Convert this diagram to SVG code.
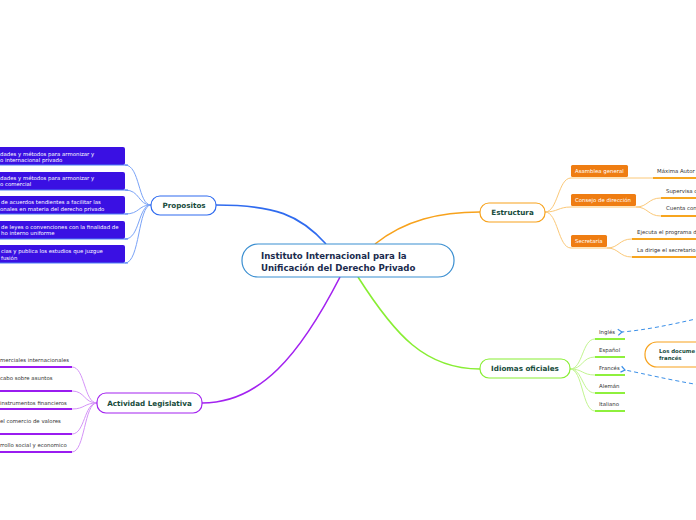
<svg xmlns="http://www.w3.org/2000/svg" width="696" height="520" viewBox="0 0 696 520">
<defs>
<style>
.main{fill:#fff;stroke:#3b8fd1;stroke-width:1.2}
.ctext{font-family:"DejaVu Sans",sans-serif;font-weight:bold;font-size:8.6px;fill:#1b2b4d}
.ntext{font-family:"DejaVu Sans",sans-serif;font-weight:bold;font-size:7.2px;fill:#174c3c;text-anchor:middle}
.ltext{font-family:"DejaVu Sans",sans-serif;font-size:5.4px;fill:#333}
.wtext{font-family:"DejaVu Sans",sans-serif;font-size:5.4px;fill:#fff}
.btext{font-family:"DejaVu Sans",sans-serif;font-weight:bold;font-size:5.4px;fill:#174c3c}
</style>
<marker id="arr" markerWidth="8" markerHeight="8" refX="1" refY="4" orient="auto" markerUnits="userSpaceOnUse">
<path d="M5,1 L1,4 L5,7" fill="none" stroke="#3a8fe8" stroke-width="1.2"/>
</marker>
</defs>
<rect width="696" height="520" fill="#fff"/>

<g id="connectors" fill="none">
<path d="M216,205 C275,205 300,215 326,244" stroke="#2f6bef" stroke-width="1.6"/>
<path d="M375,244 C405,220 440,212 480,212" stroke="#f7a21c" stroke-width="1.6"/>
<path d="M358,277 C395,335 425,369 480,369" stroke="#88ee33" stroke-width="1.6"/>
<path d="M340,277 C300,355 260,403 202,403" stroke="#a322f0" stroke-width="1.6"/>

<g stroke="#7aa3f7" stroke-width="1">
<path d="M151,205 C138,205 140,165 125,165"/>
<path d="M151,205 C138,205 140,190 125,190"/>
<path d="M151,205 C138,205 140,214 125,214"/>
<path d="M151,205 C138,205 140,239 125,239"/>
<path d="M151,205 C138,205 140,263 125,263"/>
</g>
<g stroke="#fbc878" stroke-width="1">
<path d="M545,212 C558,212 558,178 571,178"/>
<path d="M545,212 C558,212 558,207 571,207"/>
<path d="M545,212 C558,212 558,248 571,248"/>
<path d="M628,178 L653,178"/>
<path d="M636,207 C648,207 648,198 661,198"/>
<path d="M636,207 C648,207 648,216 661,216"/>
<path d="M607,248 C619,248 619,239 632,239"/>
<path d="M607,248 C619,248 619,257 632,257"/>
</g>
<g stroke="#c2f590" stroke-width="1">
<path d="M570,369 C583,369 582,339 595,339"/>
<path d="M570,369 C583,369 582,357 595,357"/>
<path d="M570,369 C583,369 582,375 595,375"/>
<path d="M570,369 C583,369 582,393 595,393"/>
<path d="M570,369 C583,369 582,411 595,411"/>
</g>
<g stroke="#d594f8" stroke-width="1">
<path d="M97,403 C84,403 85,367 72,367"/>
<path d="M97,403 C84,403 85,391 72,391"/>
<path d="M97,403 C84,403 85,409 72,409"/>
<path d="M97,403 C84,403 85,434 72,434"/>
<path d="M97,403 C84,403 85,452 72,452"/>
</g>
<g stroke="#3a8fe8" stroke-width="1" stroke-dasharray="4,3">
<path d="M700,318 C670,325 645,330 622,332" marker-end="url(#arr)"/>
<path d="M700,385 C670,380 645,374 625,370" marker-end="url(#arr)"/>
</g>
</g>

<g id="central">
<rect class="main" x="242" y="244" width="212" height="33" rx="16"/>
<text class="ctext" x="261" y="259">Instituto Internacional para la</text>
<text class="ctext" x="261" y="271">Unificación del Derecho Privado</text>
</g>

<g id="propositos">
<rect x="151" y="196" width="65" height="19" rx="9" fill="#fff" stroke="#2f6bef" stroke-width="1.2"/>
<text class="ntext" x="184" y="208">Propositos</text>
</g>
<g id="prop1">
<rect x="-5" y="147" width="130" height="18" rx="2" fill="#3a10e3"/>
<line x1="-5" y1="165" x2="128" y2="165" stroke="#4d7cf5" stroke-width="1"/>
<text class="wtext" x="0" y="156">dades y métodos para armonizar y</text>
<text class="wtext" x="0" y="162">o internacional privado</text>
</g>
<g id="prop2">
<rect x="-5" y="172" width="130" height="18" rx="2" fill="#3a10e3"/>
<line x1="-5" y1="190" x2="128" y2="190" stroke="#4d7cf5" stroke-width="1"/>
<text class="wtext" x="0" y="180">dades y métodos para armonizar y</text>
<text class="wtext" x="0" y="186">o comercial</text>
</g>
<g id="prop3">
<rect x="-5" y="196" width="130" height="18" rx="2" fill="#3a10e3"/>
<line x1="-5" y1="214" x2="128" y2="214" stroke="#4d7cf5" stroke-width="1"/>
<text class="wtext" x="1" y="204">de acuerdos tendientes a facilitar las</text>
<text class="wtext" x="0" y="211">onales en materia del derecho privado</text>
</g>
<g id="prop4">
<rect x="-5" y="221" width="130" height="18" rx="2" fill="#3a10e3"/>
<line x1="-5" y1="239" x2="128" y2="239" stroke="#4d7cf5" stroke-width="1"/>
<text class="wtext" x="1" y="229">de leyes o convenciones con la finalidad de</text>
<text class="wtext" x="1" y="235">ho interno uniforme</text>
</g>
<g id="prop5">
<rect x="-5" y="245" width="130" height="18" rx="2" fill="#3a10e3"/>
<line x1="-5" y1="263" x2="128" y2="263" stroke="#4d7cf5" stroke-width="1"/>
<text class="wtext" x="1" y="253">cias y publica los estudios que juzgue</text>
<text class="wtext" x="1" y="260">fusión</text>
</g>

<g id="estructura">
<rect x="480" y="203" width="65" height="19" rx="9" fill="#fff" stroke="#f7a21c" stroke-width="1.2"/>
<text class="ntext" x="512.5" y="215">Estructura</text>
</g>
<g id="asamblea">
<rect x="571" y="165" width="57" height="12" rx="1.5" fill="#ef7d12"/>
<line x1="571" y1="178" x2="628" y2="178" stroke="#fbc878" stroke-width="1"/>
<text class="wtext" x="575" y="173">Asamblea general</text>
</g>
<g id="consejo">
<rect x="571" y="194" width="65" height="12" rx="1.5" fill="#ef7d12"/>
<line x1="571" y1="207" x2="636" y2="207" stroke="#fbc878" stroke-width="1"/>
<text class="wtext" x="575" y="202">Consejo de dirección</text>
</g>
<g id="secretaria">
<rect x="571" y="235" width="36" height="12" rx="1.5" fill="#ef7d12"/>
<line x1="571" y1="248" x2="607" y2="248" stroke="#fbc878" stroke-width="1"/>
<text class="wtext" x="575" y="243">Secretaría</text>
</g>
<g id="maxima">
<line x1="653" y1="178" x2="700" y2="178" stroke="#f7a51f" stroke-width="2"/>
<text class="ltext" x="657" y="173">Máxima Autor</text>
</g>
<g id="supervisa">
<line x1="661" y1="198" x2="700" y2="198" stroke="#f7a51f" stroke-width="2"/>
<text class="ltext" x="666" y="193">Supervisa c</text>
</g>
<g id="cuenta">
<line x1="661" y1="216" x2="700" y2="216" stroke="#f7a51f" stroke-width="2"/>
<text class="ltext" x="666" y="210">Cuenta con</text>
</g>
<g id="ejecuta">
<line x1="632" y1="239" x2="700" y2="239" stroke="#f7a51f" stroke-width="2"/>
<text class="ltext" x="637" y="234">Ejecuta el programa d</text>
</g>
<g id="dirige">
<line x1="632" y1="257" x2="700" y2="257" stroke="#f7a51f" stroke-width="2"/>
<text class="ltext" x="637" y="252">La dirige el secretario</text>
</g>

<g id="idiomas">
<rect x="480" y="359" width="90" height="19" rx="9" fill="#fff" stroke="#88ee33" stroke-width="1.2"/>
<text class="ntext" x="525" y="371">Idiomas oficiales</text>
</g>
<g id="ingles">
<line x1="595" y1="339" x2="625" y2="339" stroke="#8ef03c" stroke-width="2"/>
<text class="ltext" x="599" y="334">Inglés</text>
</g>
<g id="espanol">
<line x1="595" y1="357" x2="625" y2="357" stroke="#8ef03c" stroke-width="2"/>
<text class="ltext" x="599" y="352">Español</text>
</g>
<g id="frances">
<line x1="595" y1="375" x2="625" y2="375" stroke="#8ef03c" stroke-width="2"/>
<text class="ltext" x="599" y="370">Francés</text>
</g>
<g id="aleman">
<line x1="595" y1="393" x2="625" y2="393" stroke="#8ef03c" stroke-width="2"/>
<text class="ltext" x="599" y="388">Alemán</text>
</g>
<g id="italiano">
<line x1="595" y1="411" x2="625" y2="411" stroke="#8ef03c" stroke-width="2"/>
<text class="ltext" x="599" y="406">Italiano</text>
</g>
<g id="documentos">
<rect x="645" y="342" width="80" height="25" rx="12" fill="#fff" stroke="#f7a21c" stroke-width="1.2"/>
<text class="btext" x="659" y="353">Los docume</text>
<text class="btext" x="659" y="360">francés</text>
</g>

<g id="actividad">
<rect x="97" y="393" width="105" height="20" rx="9" fill="#fff" stroke="#a322f0" stroke-width="1.2"/>
<text class="ntext" x="149.5" y="406">Actividad Legislativa</text>
</g>
<g id="act1">
<line x1="-5" y1="367" x2="72" y2="367" stroke="#9a1cf0" stroke-width="2"/>
<text class="ltext" x="0" y="362">merciales internacionales</text>
</g>
<g id="act2">
<line x1="-5" y1="391" x2="72" y2="391" stroke="#9a1cf0" stroke-width="2"/>
<text class="ltext" x="0" y="380">cabo sobre asuntos</text>
</g>
<g id="act3">
<line x1="-5" y1="409" x2="72" y2="409" stroke="#9a1cf0" stroke-width="2"/>
<text class="ltext" x="0" y="405">instrumentos financieros</text>
</g>
<g id="act4">
<line x1="-5" y1="434" x2="72" y2="434" stroke="#9a1cf0" stroke-width="2"/>
<text class="ltext" x="0" y="423">el comercio de valores</text>
</g>
<g id="act5">
<line x1="-5" y1="452" x2="72" y2="452" stroke="#9a1cf0" stroke-width="2"/>
<text class="ltext" x="0" y="447">rrollo social y economico</text>
</g>
</svg>
